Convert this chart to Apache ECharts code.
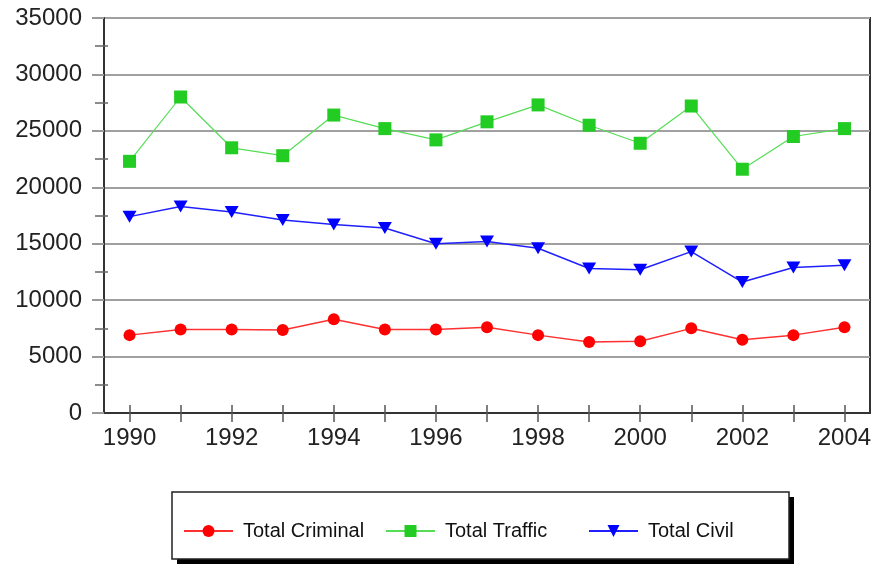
<!DOCTYPE html>
<html lang="en">

<head>
    <meta charset="UTF-8">
    <title>cases</title>
    <script src="https://cdn.jsdelivr.net/npm/echarts@6/dist/echarts.min.js"></script>
</head>

<body style="margin:0;background:#fff;">
    <div id="chart" style="width:875px;height:569px;"></div>
</body>
<script>
    // data
    var years = ['1990', '1991', '1992', '1993', '1994', '1995', '1996', '1997',
        '1998', '1999', '2000', '2001', '2002', '2003', '2004'];
    var criminal = [6900, 7400, 7400, 7350, 8300, 7400, 7400, 7600, 6900, 6300, 6350, 7500, 6500, 6900, 7600];
    var traffic = [22300, 28000, 23500, 22800, 26400, 25200, 24200, 25800, 27300, 25500, 23900, 27200, 21600, 24500, 25200];
    var civil = [17400, 18300, 17800, 17100, 16700, 16400, 15000, 15200, 14600, 12800, 12700, 14300, 11600, 12900, 13100];
    var names = ['Total Criminal', 'Total Traffic', 'Total Civil'];

    var chart = echarts.init(document.getElementById('chart'));
    var font = 'Liberation Sans, Arial, sans-serif';

    // one legend per item so each sits where the original put it
    var legendLeft = [183, 385, 588];
    var legends = names.map(function (n, i) {
        return {
            left: legendLeft[i],
            top: 521,
            padding: 0,
            itemWidth: 49,
            itemHeight: 15,
            z: 5,
            textStyle: {
                fontFamily: font,
                fontSize: 20,
                color: '#111',
                padding: [0, 0, 0, 5],
            },
            data: [n],
        };
    });

    var option = {
        backgroundColor: '#ffffff',
        animation: false,
        grid: {
            left: 104,
            right: 5,
            top: 18,
            bottom: 156,
            show: true,
            borderColor: '#333',
            borderWidth: 2,
        },
        graphic: [{
            type: 'rect',
            shape: { x: 177, y: 497, width: 617, height: 67 },
            style: { fill: '#000' },
            z: 0,
        }, {
            type: 'rect',
            shape: { x: 172, y: 492, width: 617, height: 67 },
            style: { fill: '#fff', stroke: '#222', lineWidth: 1.5 },
            z: 1,
        }],
        legend: legends,
        xAxis: [{
            type: 'category',
            data: years,
            boundaryGap: true,
            axisLine: { lineStyle: { color: '#333', width: 2 } },
            axisTick: {
                show: true,
                alignWithLabel: true,
                interval: 0,
                length: 9,
                lineStyle: { color: '#555', width: 1.5 },
            },
            axisLabel: {
                interval: 1,
                margin: 13,
                fontFamily: font,
                fontSize: 24,
                color: '#222',
            },
        }, {
            type: 'category',
            data: years,
            position: 'bottom',
            boundaryGap: true,
            axisLine: { show: false },
            axisTick: {
                show: true,
                inside: true,
                alignWithLabel: true,
                interval: 0,
                length: 8,
                lineStyle: { color: '#555', width: 1.5 },
            },
            axisLabel: { show: false },
        }],
        yAxis: [{
            type: 'value',
            min: 0,
            max: 35000,
            interval: 5000,
            axisLine: { show: true, lineStyle: { color: '#333', width: 2 } },
            axisTick: { show: true, length: 12, lineStyle: { color: '#999', width: 2 } },
            minorTick: { show: true, splitNumber: 2, length: 9, lineStyle: { color: '#666', width: 1.5 } },
            splitLine: { lineStyle: { color: '#a0a0a0', width: 2 } },
            axisLabel: {
                margin: 22,
                fontFamily: font,
                fontSize: 24,
                color: '#222',
                formatter: function (v) { return String(v); },
            },
        }, {
            type: 'value',
            position: 'left',
            min: 0,
            max: 35000,
            interval: 5000,
            axisLine: { show: false },
            axisTick: { show: false, inside: true },
            minorTick: { show: true, splitNumber: 2, length: 4, lineStyle: { color: '#666', width: 1.5 } },
            splitLine: { show: false },
            axisLabel: { show: false },
        }],
        series: [{
            name: names[0],
            type: 'line',
            data: criminal,
            symbol: 'circle',
            symbolSize: 12,
            itemStyle: { color: '#ff0000' },
            lineStyle: { color: '#ff3030', width: 1.5 },
            z: 3,
        }, {
            name: names[1],
            type: 'line',
            data: traffic,
            symbol: 'rect',
            symbolSize: 13,
            itemStyle: { color: '#22cc22' },
            lineStyle: { color: '#55dd55', width: 1.2 },
            z: 3,
        }, {
            name: names[2],
            type: 'line',
            data: civil,
            symbol: 'triangle',
            symbolRotate: 180,
            symbolSize: [14, 12],
            itemStyle: { color: '#0000ff' },
            lineStyle: { color: '#2020ff', width: 1.5 },
            z: 3,
        }],
    };

    chart.setOption(option);
</script>

</html>
